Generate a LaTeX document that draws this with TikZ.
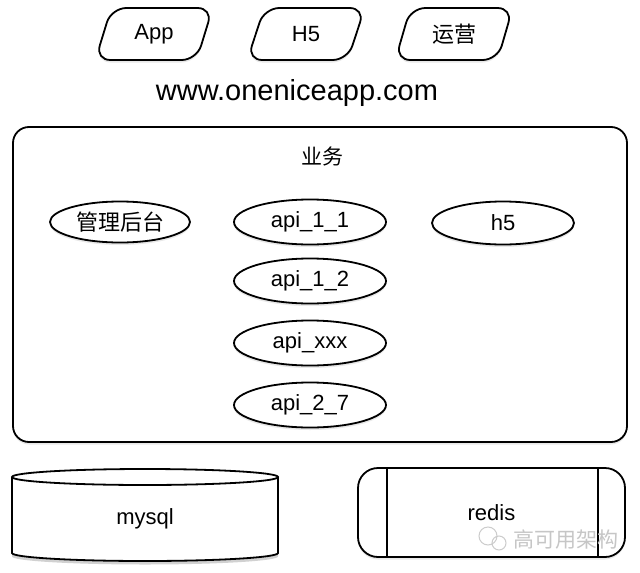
\documentclass[tikz,border=0pt]{standalone}
\usepackage{fontspec}
\setmainfont{Liberation Sans}
\newfontfamily\cjk{Noto Sans CJK SC}
\usetikzlibrary{shapes.geometric,shadows}

\tikzset{
  softshadow/.style={drop shadow={opacity=0.18, shadow xshift=0pt, shadow yshift=-2.5pt}},
  client/.style={draw, line width=1.8pt, trapezium, trapezium left angle=72,
    trapezium right angle=108, trapezium stretches=true, minimum width=118pt,
    minimum height=52pt, rounded corners=15pt, fill=white, softshadow},
  svc/.style={draw, line width=1.8pt, ellipse, minimum width=152pt,
    minimum height=45pt, fill=white, softshadow},
}

\begin{document}
\begin{tikzpicture}[x=1pt,y=-1pt, every node/.style={font=\fontsize{22}{25}\selectfont}]
        \useasboundingbox (0,0) rectangle (640,573);

        % clients
        \node[client] (app) at (154,34) {App};
        \node[client] (hfive) at (306,34) {H5};
        \node[client] (ops) at (454,34) {\cjk 运营};

        \node[font=\fontsize{29}{32}\selectfont] (site) at (297,93) {www.oneniceapp.com};

        % business box
        \node[draw, line width=1.8pt, rounded corners=16pt, minimum width=614pt,
          minimum height=315pt, fill=white, softshadow] (biz) at (320,284.5) {};
        \node[font={\cjk\fontsize{21}{24}\selectfont}] (bizlabel) at (322,156) {业务};

        \node[svc, minimum width=140pt, minimum height=41pt] (admin) at (120,222) {\cjk 管理后台};
        \node[svc] (apia) at (310,222) {api\_1\_1};
        \node[svc, minimum width=142pt, minimum height=43pt] (hfivesvc) at (503,223) {h5};
        \node[svc] (apib) at (310,281) {api\_1\_2};
        \node[svc] (apix) at (310,343) {api\_xxx};
        \node[svc] (apic) at (310,405) {api\_2\_7};

        % storage
        \fill[black, opacity=0.18] (12,480.5) -- (12,556.5) arc[start angle=180, end angle=0, x radius=133, y radius=8] -- (278,480.5) -- cycle;
        \filldraw[fill=white, line width=1.8pt] (12,477) -- (12,553) arc[start angle=180, end angle=0, x radius=133, y radius=8] -- (278,477);
        \draw[line width=1.8pt] (145,477) ellipse [x radius=133, y radius=8];
        \node (mysql) at (145,519) {mysql};

        \node[draw, line width=1.8pt, rounded corners=20pt, minimum width=267pt,
          minimum height=89pt, fill=white, softshadow] (redis) at (491.5,512.5) {redis};
        \draw[line width=1.5pt] ([xshift=30pt]redis.north west) -- ([xshift=30pt]redis.south west);
        \draw[line width=1.5pt] ([xshift=-28pt]redis.north east) -- ([xshift=-28pt]redis.south east);

        % watermark
        \draw[gray!40, line width=1pt] (488,536) circle (9) (499,543) circle (7);
        \node[text=gray!45, font={\cjk\fontsize{21}{24}\selectfont}] (mark) at (566,540) {高可用架构};
    \end{tikzpicture}
\end{document}
